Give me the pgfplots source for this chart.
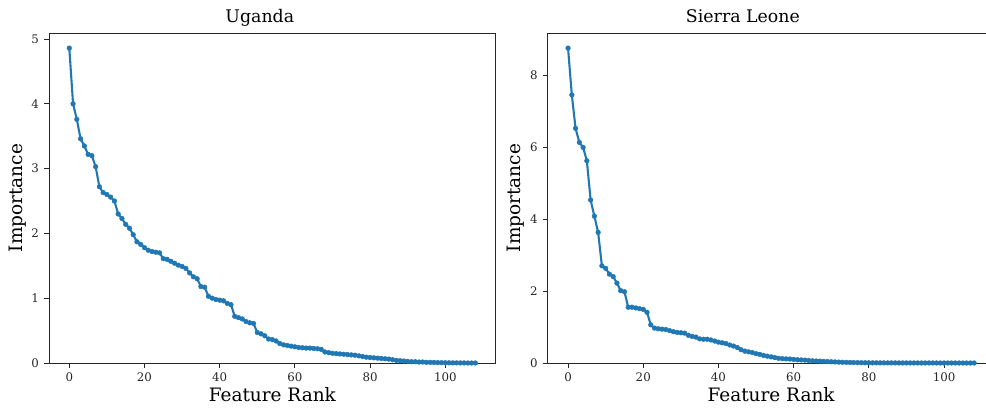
\documentclass[border=0pt]{standalone}
\usepackage{fontspec}
\setmainfont{DejaVu Serif}
\usepackage{pgfplots}
\usepackage{pgfplotstable}
\pgfplotsset{compat=1.18}

\definecolor{tabblue}{HTML}{1F77B4}

% rank / importance, Uganda
\pgfplotstableread{
r v
0 4.86
1 4.00
2 3.76
3 3.46
4 3.35
5 3.22
6 3.20
7 3.03
8 2.72
9 2.63
10 2.60
11 2.56
12 2.50
13 2.30
14 2.23
15 2.14
16 2.08
17 1.98
18 1.87
19 1.83
20 1.78
21 1.74
22 1.72
23 1.71
24 1.70
25 1.61
26 1.60
27 1.57
28 1.54
29 1.51
30 1.49
31 1.46
32 1.39
33 1.33
34 1.30
35 1.18
36 1.17
37 1.03
38 1.00
39 0.98
40 0.97
41 0.96
42 0.92
43 0.90
44 0.72
45 0.70
46 0.68
47 0.64
48 0.62
49 0.61
50 0.47
51 0.45
52 0.42
53 0.37
54 0.36
55 0.34
56 0.30
57 0.28
58 0.27
59 0.26
60 0.25
61 0.24
62 0.235
63 0.23
64 0.23
65 0.225
66 0.22
67 0.21
68 0.17
69 0.16
70 0.15
71 0.145
72 0.14
73 0.135
74 0.13
75 0.125
76 0.12
77 0.11
78 0.10
79 0.09
80 0.085
81 0.08
82 0.075
83 0.07
84 0.065
85 0.06
86 0.05
87 0.04
88 0.035
89 0.03
90 0.025
91 0.02
92 0.02
93 0.015
94 0.015
95 0.01
96 0.01
97 0.008
98 0.006
99 0.005
100 0.004
101 0.003
102 0.002
103 0.002
104 0.001
105 0.001
106 0
107 0
108 0
}\uganda

% rank / importance, Sierra Leone
\pgfplotstableread{
r v
0 8.75
1 7.45
2 6.52
3 6.13
4 5.99
5 5.62
6 4.53
7 4.08
8 3.63
9 2.70
10 2.63
11 2.47
12 2.40
13 2.22
14 2.01
15 1.98
16 1.55
17 1.55
18 1.53
19 1.51
20 1.49
21 1.41
22 1.06
23 0.97
24 0.95
25 0.94
26 0.93
27 0.90
28 0.87
29 0.85
30 0.84
31 0.83
32 0.77
33 0.74
34 0.72
35 0.67
36 0.66
37 0.66
38 0.64
39 0.61
40 0.58
41 0.56
42 0.54
43 0.50
44 0.47
45 0.43
46 0.37
47 0.33
48 0.31
49 0.29
50 0.26
51 0.24
52 0.21
53 0.19
54 0.17
55 0.15
56 0.13
57 0.12
58 0.115
59 0.11
60 0.10
61 0.09
62 0.085
63 0.08
64 0.07
65 0.06
66 0.055
67 0.05
68 0.045
69 0.04
70 0.035
71 0.03
72 0.025
73 0.02
74 0.018
75 0.015
76 0.012
77 0.01
78 0.008
79 0.007
80 0.006
81 0.005
82 0.005
83 0.004
84 0.004
85 0.003
86 0.003
87 0.003
88 0.002
89 0.002
90 0.002
91 0.002
92 0.001
93 0.001
94 0.001
95 0.001
96 0.001
97 0.001
98 0.001
99 0
100 0
101 0
102 0
103 0
104 0
105 0
106 0
107 0
108 0
}\sierra

\pgfplotsset{
  fiplot/.style={
    scale only axis,
    width=321.6pt, height=237.6pt,
    xmin=-5.4, xmax=113.4, ymin=0,
    xtick={0,20,...,100},
    axis line style={black!85, line width=0.7pt},
    tick style={black!85, line width=0.7pt},
    tick align=outside, tick pos=left,
    major tick length=3.5pt,
    /pgf/number format/assume math mode=true,
    ticklabel style={font=\fontsize{8.5}{10}\selectfont, text=black!85},
    xticklabel style={inner sep=0pt, yshift=-3.5pt},
    yticklabel style={inner sep=0pt, xshift=-3.5pt},
    label style={font=\fontsize{13.3}{16}\selectfont},
    xlabel style={at={(axis description cs:0.5,-0.1174)}, anchor=base},
    ylabel style={at={(axis description cs:-0.0603,0.5)}, anchor=base},
    title style={font=\fontsize{12.5}{15}\selectfont, anchor=base},
    xlabel={Feature Rank}, ylabel={Importance},
  },
  fiseries/.style={tabblue, line width=1.5pt, mark=*, mark size=1.7pt,
    mark options={fill=tabblue, draw=tabblue, line width=0.3pt}},
}

\begin{document}
\begin{tikzpicture}
\begin{axis}[fiplot, at={(0pt,0pt)}, anchor=south west,
    ymax=5.093, ytick={0,1,2,3,4,5},
    title={Uganda}, title style={at={(axis description cs:0.472,1.006)}}]
\addplot[fiseries] table[x=r, y=v] {\uganda};
\end{axis}
\begin{axis}[fiplot, at={(359.1pt,0pt)}, anchor=south west,
    ymax=9.17, ytick={0,2,4,6,8},
    title={Sierra Leone}, title style={at={(axis description cs:0.437,1.006)}}]
\addplot[fiseries] table[x=r, y=v] {\sierra};
\end{axis}
\pgfresetboundingbox
\useasboundingbox (-35.28pt,-32.4pt) rectangle (674.64pt,261.36pt);
\end{tikzpicture}
\end{document}
